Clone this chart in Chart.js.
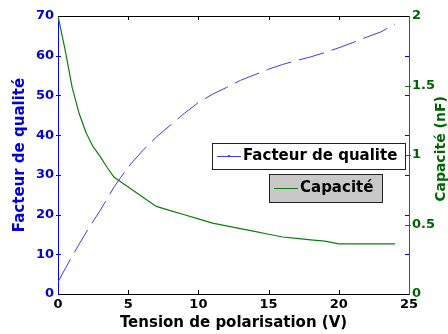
<!DOCTYPE html>
<html>
<head>
<meta charset="utf-8">
<script src="https://cdn.jsdelivr.net/npm/chart.js@4.4.0/dist/chart.umd.min.js"></script>
<style>
  html, body { margin: 0; padding: 0; background: #fff; }
</style>
</head>
<body>
<canvas id="myChart" width="448" height="334"></canvas>
<script>
// Tension de polarisation (V)
const tension = [0, 0.5, 1, 1.5, 2, 2.5, 3, 3.5, 4, 5, 6, 7, 8, 9, 10, 11, 12, 13, 14, 15, 16, 17, 18, 19, 20, 21, 22, 23, 24];
// Facteur de qualite (left axis)
const facteurQualite = [3, 6.3, 9.5, 12.5, 15.5, 18.3, 21, 24, 27, 32, 36, 39.5, 42.5, 45.5, 48.2, 50.3, 52, 53.8, 55.2, 56.6, 57.8, 58.8, 59.7, 60.8, 62, 63.3, 64.7, 66, 68];
// Capacite in nF (right axis)
const capacite = [2.0, 1.76, 1.49, 1.30, 1.16, 1.06, 0.99, 0.91, 0.84, 0.77, 0.70, 0.63, 0.60, 0.57, 0.54, 0.51, 0.49, 0.47, 0.45, 0.43, 0.41, 0.40, 0.39, 0.38, 0.36, 0.36, 0.36, 0.36, 0.36];

const xTicks = [0, 5, 10, 15, 20, 25];
const qualiteTicks = [0, 10, 20, 30, 40, 50, 60, 70];
const capaciteTicks = [0, 0.5, 1, 1.5, 2];

const FONT = "'DejaVu Sans', Arial, sans-serif";
const BLUE = "#0000ff";
const GREEN = "#0a800a";
const DARKGREEN = "#006400";

// inward ticks, top border, right title and the two legend boxes
const framePlugin = {
  id: "frame",
  afterDraw(chart) {
    const { ctx, chartArea: a, scales } = chart;
    const x = scales.x, yq = scales.yQ, yc = scales.yC;
    ctx.save();
    ctx.lineWidth = 1;

    ctx.strokeStyle = "#000";
    ctx.beginPath();
    ctx.moveTo(a.left, a.top + 0.5);
    ctx.lineTo(a.right, a.top + 0.5);
    ctx.stroke();
    xTicks.slice(1, -1).forEach(v => {
      const px = Math.round(x.getPixelForValue(v)) + 0.5;
      ctx.beginPath();
      ctx.moveTo(px, a.top); ctx.lineTo(px, a.top + 4);
      ctx.moveTo(px, a.bottom); ctx.lineTo(px, a.bottom - 4);
      ctx.stroke();
    });

    ctx.strokeStyle = BLUE;
    qualiteTicks.slice(1, -1).forEach(v => {
      const py = Math.round(yq.getPixelForValue(v)) + 0.5;
      ctx.beginPath();
      ctx.moveTo(a.left - 2, py); ctx.lineTo(a.left + 3, py);
      ctx.moveTo(a.right, py); ctx.lineTo(a.right - 4, py);
      ctx.stroke();
    });
    ctx.strokeStyle = GREEN;
    capaciteTicks.slice(1, -1).forEach(v => {
      const py = Math.round(yc.getPixelForValue(v)) + 0.5;
      ctx.beginPath();
      ctx.moveTo(a.right - 4, py); ctx.lineTo(a.right + 2, py);
      ctx.stroke();
    });

    // right axis title, reading bottom to top
    ctx.fillStyle = DARKGREEN;
    ctx.font = "bold 14px " + FONT;
    ctx.textAlign = "center";
    ctx.textBaseline = "middle";
    ctx.translate(441, (a.top + a.bottom) / 2 - 6);
    ctx.rotate(-Math.PI / 2);
    ctx.fillText("Capacité (nF)", 0, 0);
    ctx.setTransform(1, 0, 0, 1, 0, 0);

    // legend boxes
    const ds = chart.data.datasets;
    const boxes = [
      { x: 212, y: 143, w: 193, h: 26, bg: "#ffffff", d: ds[0], dot: true },
      { x: 269, y: 174, w: 113, h: 28, bg: "#c8c8c8", d: ds[1], dot: false }
    ];
    boxes.forEach(b => {
      ctx.fillStyle = b.bg;
      ctx.fillRect(b.x, b.y, b.w, b.h);
      ctx.strokeStyle = "#222";
      ctx.strokeRect(b.x + 0.5, b.y + 0.5, b.w, b.h);
      const cy = Math.round(b.y + b.h / 2) + 0.5;
      ctx.strokeStyle = b.d.borderColor;
      ctx.beginPath();
      ctx.moveTo(b.x + 5, cy); ctx.lineTo(b.x + 29, cy);
      ctx.stroke();
      if (b.dot) {
        ctx.fillStyle = b.d.borderColor;
        ctx.fillRect(b.x + 16, cy - 1.5, 2, 2);
      }
      ctx.fillStyle = "#000";
      ctx.textAlign = "left";
      ctx.font = "bold 15px " + FONT;
      ctx.fillText(b.d.label, b.x + 31, cy);
    });
    ctx.restore();
  }
};

const myChart = new Chart("myChart", {
  type: "line",
  data: {
    datasets: [
      {
        label: "Facteur de qualite",
        data: tension.map((t, i) => ({ x: t, y: facteurQualite[i] })),
        borderColor: "#3a3aff",
        borderWidth: 1,
        borderDash: [26, 8],
        pointRadius: 0,
        tension: 0,
        yAxisID: "yQ"
      },
      {
        label: "Capacité",
        data: tension.map((t, i) => ({ x: t, y: capacite[i] })),
        borderColor: GREEN,
        borderWidth: 1.2,
        pointRadius: 0,
        tension: 0,
        yAxisID: "yC"
      }
    ]
  },
  options: {
    responsive: false,
    animation: false,
    layout: { padding: { top: 16, left: 0, right: 0, bottom: 0 } },
    plugins: { legend: { display: false }, tooltip: { enabled: false } },
    scales: {
      x: {
        type: "linear",
        min: 0, max: 25,
        afterBuildTicks: s => { s.ticks = xTicks.map(v => ({ value: v })); },
        afterFit: s => { s.height = 40; },
        grid: { display: false, drawTicks: false },
        border: { color: "#000", width: 1 },
        ticks: { color: "#000", padding: 3, font: { family: FONT, size: 13, weight: "bold" } },
        title: {
          display: true,
          text: "Tension de polarisation (V)",
          color: "#000",
          padding: { top: 0, bottom: 2 },
          font: { family: FONT, size: 15, weight: "bold" }
        }
      },
      yQ: {
        type: "linear",
        position: "left",
        min: 0, max: 70,
        afterBuildTicks: s => { s.ticks = qualiteTicks.map(v => ({ value: v })); },
        afterFit: s => { s.width = 58; },
        grid: { display: false, drawTicks: false },
        border: { color: BLUE, width: 1 },
        ticks: { color: "#0000d8", padding: 4, font: { family: FONT, size: 13, weight: "bold" } },
        title: {
          display: true,
          text: "Facteur de qualité",
          color: "#0000d8",
          padding: { top: 11, bottom: 0 },
          font: { family: FONT, size: 15, weight: "bold" }
        }
      },
      yC: {
        type: "linear",
        position: "right",
        min: 0, max: 2,
        afterBuildTicks: s => { s.ticks = capaciteTicks.map(v => ({ value: v })); },
        afterFit: s => { s.width = 39; },
        grid: { display: false, drawTicks: false },
        border: { color: GREEN, width: 1 },
        ticks: {
          color: DARKGREEN,
          padding: 3,
          font: { family: FONT, size: 13, weight: "bold" },
          callback: v => String(v)
        }
      }
    }
  },
  plugins: [framePlugin]
});
</script>
</body>
</html>
